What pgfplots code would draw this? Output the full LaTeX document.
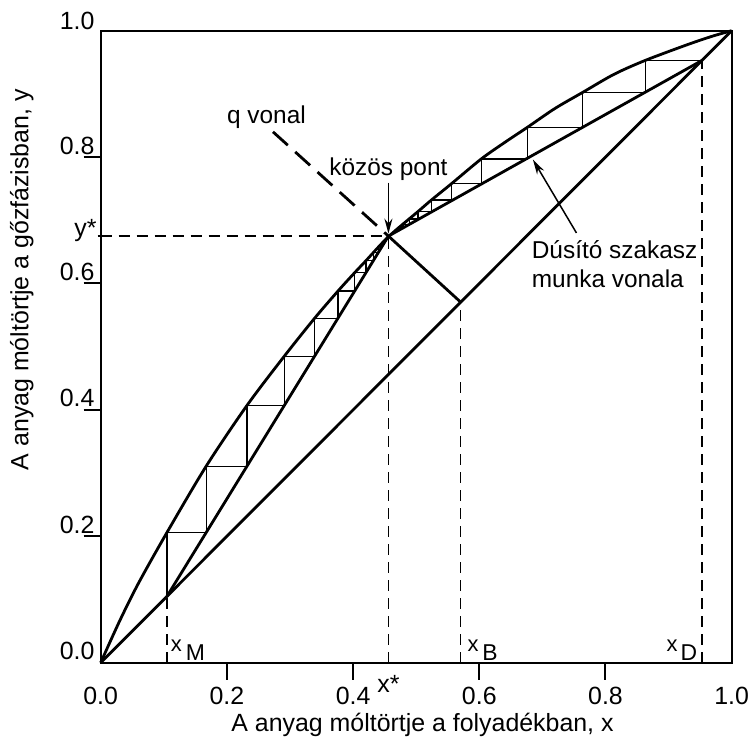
\documentclass[border=0pt]{standalone}
\usepackage{pgfplots}
\pgfplotsset{compat=1.18}
\usepackage{fontspec}
\setmainfont{Liberation Sans}
\usetikzlibrary{arrows.meta}
\begin{document}
\begin{tikzpicture}[font=\fontsize{25}{30}\selectfont]
\begin{axis}[
  scale only axis, width=631bp, height=632bp,
  xmin=0, xmax=1, ymin=0, ymax=1,
  axis line style={line width=2bp},
  xtick={0.2,0.4,0.6,0.8}, ytick={0.2,0.4,0.6,0.8},
  xticklabels={}, yticklabels={},
  tick pos=left, tick align=outside, major tick length=17bp,
  every tick/.style={line width=2bp, black},
  clip=false,
]
% bounding region of the whole figure
\path (rel axis cs:-0.1596,-0.1329) rectangle (rel axis cs:1.0322,1.0486);

% thin dashed guide lines
\addplot[black, line width=1.4bp, dash pattern=on 11bp off 7bp] coordinates {(0.105,0) (0.105,0.105)};
\addplot[black, line width=1.4bp, dash pattern=on 11bp off 7bp] coordinates {(0.456,0) (0.456,0.675)};
\addplot[black, line width=1.4bp, dash pattern=on 11bp off 7bp] coordinates {(0.5705,0) (0.5705,0.5705)};
\addplot[black, line width=1.4bp, dash pattern=on 11bp off 7bp] coordinates {(0.953,0) (0.953,0.953)};
\addplot[black, line width=1.4bp, dash pattern=on 11bp off 7bp] coordinates {(0,0.675) (0.456,0.675)};

% stairs (stripping section)
\addplot[black, line width=1.2bp] coordinates {
(0.105,0.105) (0.105,0.206) (0.1672,0.206) (0.1672,0.311) (0.2318,0.311)
(0.2318,0.407) (0.291,0.407) (0.291,0.485) (0.339,0.485) (0.339,0.545)
(0.376,0.545) (0.376,0.588) (0.4024,0.588) (0.4024,0.617) (0.4203,0.617)
(0.4203,0.636) (0.432,0.636) (0.432,0.6495) (0.4403,0.6495) (0.4403,0.6585)
(0.4458,0.6585) (0.4458,0.6645) (0.4495,0.6645)};
% stairs (rectifying section)
\addplot[black, line width=1.2bp] coordinates {
(0.953,0.953) (0.863,0.953) (0.863,0.9025) (0.764,0.9025) (0.764,0.847)
(0.676,0.847) (0.676,0.797) (0.603,0.797) (0.603,0.758) (0.556,0.758)
(0.556,0.732) (0.524,0.732) (0.524,0.714) (0.503,0.714) (0.503,0.702)
(0.489,0.702) (0.489,0.6935) (0.479,0.6935) (0.479,0.6878) (0.4715,0.6878)
(0.4715,0.6837)};

% equilibrium curve
\addplot[black, line width=2.8bp, smooth] coordinates {
(0,0) (0.03,0.066) (0.06,0.126) (0.105,0.206) (0.1672,0.311) (0.2318,0.407)
(0.291,0.485) (0.339,0.545) (0.376,0.588) (0.4024,0.617) (0.4203,0.636)
(0.456,0.674) (0.503,0.714) (0.524,0.732) (0.556,0.758) (0.603,0.797)
(0.64,0.823) (0.676,0.847) (0.72,0.877) (0.764,0.9025) (0.8135,0.931)
(0.863,0.953) (0.93,0.978) (0.97,0.9915) (1,1)};
% diagonal
\addplot[black, line width=2.8bp] coordinates {(0,0) (1,1)};
% operating lines
\addplot[black, line width=2.8bp] coordinates {(0.105,0.105) (0.456,0.675)};
\addplot[black, line width=2.8bp] coordinates {(0.456,0.675) (0.953,0.953)};
% q line
\addplot[black, line width=2.8bp] coordinates {(0.5705,0.5705) (0.456,0.675)};
\addplot[black, line width=2.8bp, dash pattern=on 20bp off 10bp] coordinates {(0.273,0.840) (0.456,0.675)};

% y* tick
\addplot[black, line width=1.5bp] coordinates {(-0.005,0.675) (0.004,0.675)};

% arrows
\draw[black, line width=1.5bp, -{Stealth[length=15bp,width=8bp]}] (axis cs:0.456,0.7595) -- (axis cs:0.456,0.679);
\draw[black, line width=1.5bp, -{Stealth[length=15bp,width=8bp]}] (axis cs:0.754,0.680) -- (axis cs:0.685,0.796);

% tick labels
\node[anchor=north, inner sep=0pt, yshift=-24bp] at (axis cs:0,0) {0.0};
\node[anchor=north, inner sep=0pt, yshift=-24bp] at (axis cs:0.2,0) {0.2};
\node[anchor=north, inner sep=0pt, yshift=-24bp] at (axis cs:0.4,0) {0.4};
\node[anchor=north, inner sep=0pt, yshift=-24bp] at (axis cs:0.6,0) {0.6};
\node[anchor=north, inner sep=0pt, yshift=-24bp] at (axis cs:0.8,0) {0.8};
\node[anchor=north, inner sep=0pt, yshift=-24bp] at (axis cs:1,0) {1.0};
\node[anchor=base, inner sep=0pt, yshift=-30bp] at (axis cs:0.456,0) {x*};

\node[anchor=base east, inner sep=0pt, xshift=-6bp, yshift=3bp] at (axis cs:0,0) {0.0};
\node[anchor=base east, inner sep=0pt, xshift=-6bp, yshift=3bp] at (axis cs:0,0.2) {0.2};
\node[anchor=base east, inner sep=0pt, xshift=-6bp, yshift=3bp] at (axis cs:0,0.4) {0.4};
\node[anchor=base east, inner sep=0pt, xshift=-6bp, yshift=3bp] at (axis cs:0,0.6) {0.6};
\node[anchor=base east, inner sep=0pt, xshift=-6bp, yshift=3bp] at (axis cs:0,0.8) {0.8};
\node[anchor=base east, inner sep=0pt, xshift=-6bp, yshift=1bp] at (axis cs:0,1) {1.0};
\node[anchor=base east, inner sep=0pt, xshift=-4bp] at (axis cs:0,0.675) {y*};

% axis titles
\node[anchor=base, inner sep=0pt, yshift=-69bp] at (axis cs:0.51,0) {A anyag móltörtje a folyadékban, x};
\node[rotate=90, anchor=center, inner sep=0pt] at (axis cs:-0.1252,0.606) {A anyag móltörtje a gőzfázisban, y};

% annotations
\node[anchor=base west, inner sep=0pt] at (axis cs:0.2,0.853) {\fontsize{24.5}{29}\selectfont q vonal};
\node[anchor=base, inner sep=0pt] at (axis cs:0.456,0.771) {\fontsize{24.5}{29}\selectfont közös pont};
\node[anchor=base west, inner sep=0pt] at (axis cs:0.683,0.6396) {\fontsize{24.5}{29}\selectfont Dúsító szakasz};
\node[anchor=base west, inner sep=0pt] at (axis cs:0.683,0.593) {\fontsize{24.5}{29}\selectfont munka vonala};

\node[anchor=base west, inner sep=0pt] at (axis cs:0.111,0.003) {\fontsize{22}{22}\selectfont\raisebox{9bp}{x}\kern4bp\fontsize{23}{23}\selectfont M};
\node[anchor=base west, inner sep=0pt] at (axis cs:0.581,0.003) {\fontsize{22}{22}\selectfont\raisebox{9bp}{x}\kern4bp\fontsize{23}{23}\selectfont B};
\node[anchor=base west, inner sep=0pt] at (axis cs:0.8965,0.003) {\fontsize{22}{22}\selectfont\raisebox{9bp}{x}\kern3bp\fontsize{23}{23}\selectfont D};
\end{axis}
\end{tikzpicture}
\end{document}
